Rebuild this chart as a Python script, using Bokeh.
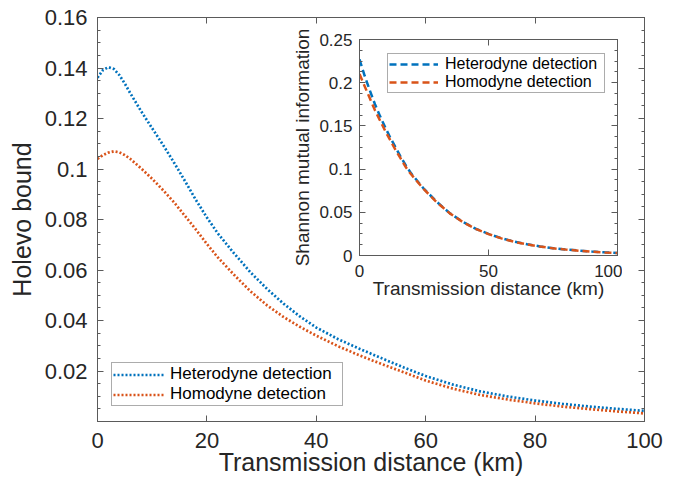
from bokeh.plotting import figure
from bokeh.models import Range1d, FixedTicker, LinearAxis, Legend, LegendItem
from bokeh.embed import file_html
from bokeh.resources import INLINE

# ---------------- data ----------------
distance_km = [0, 1, 2, 3, 4, 5, 6, 8, 10, 12, 14, 16, 18, 20, 22, 25, 28, 31, 34, 37,
               40, 44, 48, 52, 56, 60, 65, 70, 75, 80, 85, 90, 95, 100]
holevo_heterodyne = [0.1362, 0.1392, 0.1403, 0.1396, 0.1372, 0.1338, 0.1300, 0.1228, 0.1161,
                     0.1095, 0.1025, 0.0952, 0.0877, 0.0808, 0.0745, 0.0665, 0.0590, 0.0525,
                     0.0467, 0.0416, 0.0372, 0.0326, 0.0287, 0.0250, 0.0214, 0.0180, 0.0146,
                     0.0119, 0.0099, 0.0083, 0.0070, 0.0059, 0.0050, 0.0042]
holevo_homodyne = [0.1040, 0.1055, 0.1065, 0.1070, 0.1066, 0.1055, 0.1040, 0.1002, 0.0961,
                   0.0916, 0.0868, 0.0814, 0.0760, 0.0703, 0.0650, 0.0580, 0.0515, 0.0460,
                   0.0414, 0.0375, 0.0340, 0.0298, 0.0261, 0.0227, 0.0195, 0.0162, 0.0130,
                   0.0105, 0.0087, 0.0072, 0.0059, 0.0049, 0.0040, 0.0032]

inset_distance_km = [0, 2, 4, 6, 8, 10, 12, 14, 16, 18, 20, 25, 30, 35, 40, 45, 50, 55, 60,
                     65, 70, 75, 80, 85, 90, 95, 100]
shannon_heterodyne = [0.227, 0.208, 0.191, 0.175, 0.161, 0.148, 0.136, 0.125, 0.114, 0.104,
                      0.095, 0.077, 0.062, 0.049, 0.039, 0.031, 0.025, 0.020, 0.016, 0.013,
                      0.0105, 0.0085, 0.0070, 0.0057, 0.0046, 0.0037, 0.0030]
shannon_homodyne = [0.210, 0.196, 0.182, 0.168, 0.156, 0.144, 0.133, 0.122, 0.112, 0.102,
                    0.094, 0.0765, 0.0615, 0.0488, 0.0388, 0.0308, 0.0248, 0.0198, 0.0158,
                    0.0128, 0.0103, 0.0083, 0.0068, 0.0055, 0.0044, 0.0035, 0.0028]

series_labels = ["Heterodyne detection", "Homodyne detection"]

main_x_ticks = [0, 20, 40, 60, 80, 100]
main_x_labels = ["0", "20", "40", "60", "80", "100"]
main_y_ticks = [0.02, 0.04, 0.06, 0.08, 0.1, 0.12, 0.14, 0.16]
main_y_labels = ["0.02", "0.04", "0.06", "0.08", "0.1", "0.12", "0.14", "0.16"]
main_y_minor = [i * 0.005 for i in range(0, 33)]

inset_x_ticks = [0, 50, 100]
inset_x_labels = ["0", "50", "100"]
inset_y_ticks = [0, 0.05, 0.1, 0.15, 0.2, 0.25]
inset_y_labels = ["0", "0.05", "0.1", "0.15", "0.2", "0.25"]
inset_y_minor = [i * 0.0125 for i in range(0, 21)]

FONT = "Liberation Sans"
BLUE = "#0072BD"
RED = "#D95319"
TXT = "#262626"
LINE = "#5a5a5a"


def style_axis(ax, label_size, tick_size, show_labels=True):
    ax.axis_line_color = LINE
    ax.axis_line_width = 1
    ax.major_tick_line_color = LINE
    ax.minor_tick_line_color = LINE
    ax.major_tick_in = 6
    ax.major_tick_out = 0
    ax.minor_tick_in = 3
    ax.minor_tick_out = 0
    ax.major_label_text_font = FONT
    ax.axis_label_text_font = FONT
    ax.axis_label_text_color = TXT
    ax.axis_label_text_font_style = "normal"
    ax.axis_label_text_font_size = label_size
    if show_labels:
        ax.major_label_text_font_size = tick_size
        ax.major_label_text_color = TXT
    else:
        # mirror axis: ticks only, no labels drawn
        ax.major_label_text_font_size = "0px"
        ax.major_label_text_color = None
        ax.major_label_standoff = 0


# ---------------- main figure ----------------
p = figure(frame_width=547, frame_height=404, x_range=Range1d(0, 100), y_range=Range1d(0, 0.16),
           output_backend="svg", toolbar_location=None,
           min_border_left=97, min_border_right=36, min_border_top=17, min_border_bottom=62,
           styles={"position": "absolute", "left": "0px", "top": "0px"})
p.xgrid.visible = False
p.ygrid.visible = False
p.outline_line_color = LINE
p.background_fill_color = "white"
p.border_fill_color = "white"

p.xaxis.ticker = FixedTicker(ticks=main_x_ticks, minor_ticks=[])
p.yaxis.ticker = FixedTicker(ticks=main_y_ticks, minor_ticks=main_y_minor)
p.xaxis.major_label_overrides = dict(zip(main_x_ticks, main_x_labels))
p.yaxis.major_label_overrides = dict(zip(main_y_ticks, main_y_labels))
p.xaxis.axis_label = "Transmission distance (km)"
p.yaxis.axis_label = "Holevo bound"
style_axis(p.xaxis[0], "25px", "22px")
style_axis(p.yaxis[0], "25px", "22px")
p.xaxis.major_label_standoff = 11
p.xaxis.axis_label_standoff = -3
p.yaxis.major_label_standoff = 10
p.yaxis.axis_label_standoff = 6

top_ax = LinearAxis(ticker=FixedTicker(ticks=main_x_ticks, minor_ticks=[]))
style_axis(top_ax, "0px", "0px", show_labels=False)
p.add_layout(top_ax, "above")
right_ax = LinearAxis(ticker=FixedTicker(ticks=main_y_ticks, minor_ticks=main_y_minor))
style_axis(right_ax, "0px", "0px", show_labels=False)
p.add_layout(right_ax, "right")

r1 = p.line(distance_km, holevo_heterodyne, line_color=BLUE, line_width=2.7, line_dash="2 2")
r2 = p.line(distance_km, holevo_homodyne, line_color=RED, line_width=2.7, line_dash="2 2")

leg = Legend(items=[LegendItem(label=series_labels[0], renderers=[r1]),
                    LegendItem(label=series_labels[1], renderers=[r2])],
             location=(14, 15), label_text_font=FONT, label_text_font_size="17px",
             label_text_color="black", glyph_width=52, glyph_height=17, label_height=17,
             label_standoff=5, label_width=171, padding=1, spacing=-3, margin=0,
             border_line_color=LINE, border_line_width=1,
             background_fill_color="white", background_fill_alpha=1)
p.add_layout(leg)

# ---------------- inset figure ----------------
inset = figure(frame_width=258, frame_height=216, x_range=Range1d(0, 100), y_range=Range1d(0, 0.25),
               output_backend="svg", toolbar_location=None,
               min_border_left=72, min_border_right=5, min_border_top=14, min_border_bottom=50,
               styles={"position": "absolute", "left": "287px", "top": "25px"})
inset.xgrid.visible = False
inset.ygrid.visible = False
inset.outline_line_color = LINE
inset.background_fill_color = "white"
inset.border_fill_color = None

inset.xaxis.ticker = FixedTicker(ticks=inset_x_ticks, minor_ticks=[])
inset.yaxis.ticker = FixedTicker(ticks=inset_y_ticks, minor_ticks=inset_y_minor)
inset.xaxis.major_label_overrides = dict(zip(inset_x_ticks, inset_x_labels))
inset.yaxis.major_label_overrides = dict(zip(inset_y_ticks, inset_y_labels))
inset.xaxis.axis_label = "Transmission distance (km)"
inset.yaxis.axis_label = "Shannon mutual information"
style_axis(inset.xaxis[0], "19px", "17px")
style_axis(inset.yaxis[0], "19px", "17px")
inset.xaxis.major_label_standoff = 9
inset.xaxis.axis_label_standoff = -2
inset.yaxis.major_label_standoff = 7
inset.yaxis.axis_label_standoff = 3

itop = LinearAxis(ticker=FixedTicker(ticks=inset_x_ticks, minor_ticks=[]))
style_axis(itop, "0px", "0px", show_labels=False)
inset.add_layout(itop, "above")
iright = LinearAxis(ticker=FixedTicker(ticks=inset_y_ticks, minor_ticks=inset_y_minor))
style_axis(iright, "0px", "0px", show_labels=False)
inset.add_layout(iright, "right")

s1 = inset.line(inset_distance_km, shannon_heterodyne, line_color=BLUE, line_width=2.5, line_dash="7 4")
s2 = inset.line(inset_distance_km, shannon_homodyne, line_color=RED, line_width=2.5, line_dash="7 4")

ileg = Legend(items=[LegendItem(label=series_labels[0], renderers=[s1]),
                     LegendItem(label=series_labels[1], renderers=[s2])],
              location=(28, 162), label_text_font=FONT, label_text_font_size="16px",
              label_text_color="black", glyph_width=49, glyph_height=16, label_height=16,
              label_standoff=7, label_width=158, padding=1, spacing=-2, margin=0,
              border_line_color=LINE, border_line_width=1,
              background_fill_color="white", background_fill_alpha=1)
inset.add_layout(ileg)

open("out.html", "w").write(file_html([p, inset], INLINE))
